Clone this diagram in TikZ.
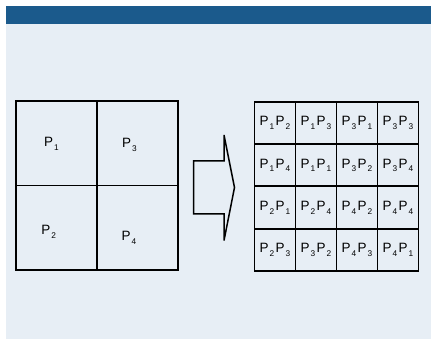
\documentclass[tikz,border=0pt]{standalone}
\usepackage{fontspec}
\setmainfont{Liberation Sans}
\definecolor{barblue}{HTML}{1B5A8C}
\definecolor{panel}{HTML}{E7EEF5}
\newcommand{\Pk}[1]{P\kern0.9pt\raisebox{-3.8pt}{\fontsize{8.3}{8.3}\selectfont #1}}
\begin{document}
\begin{tikzpicture}[x=1pt,y=-1pt,
  lbl/.style={inner sep=0pt,font=\fontsize{13.5}{15}\selectfont},
  cell/.style={draw=black,line width=1.9pt,minimum width=41pt,minimum height=42.25pt,inner sep=0pt,font=\fontsize{13.5}{15}\selectfont,anchor=north west},
  gridline/.style={draw=black,line width=1.8pt},
  bigarrow/.style={draw=black,line width=1.5pt,line join=miter}]
\useasboundingbox (0,0) rectangle (431,339);
\fill[white] (0,0) rectangle (431,339);
\fill[panel] (6,24) rectangle (431,339);
\fill[barblue] (6,6) rectangle (431,24);
% left grid
\draw[gridline] (16,101) rectangle (178,270);
\draw[gridline] (97,101) -- (97,270);
\draw[gridline] (16,185.5) -- (178,185.5);
\node[lbl] (l1) at (51.5,143.5) {\Pk{1}};
\node[lbl] (l3) at (129.5,144.5) {\Pk{3}};
\node[lbl] (l2) at (48.7,232) {\Pk{2}};
\node[lbl] (l4) at (129,238) {\Pk{4}};
% arrow
\draw[bigarrow] (193.5,161) -- (224,161) -- (224,135) -- (234.5,187.5) -- (224,240.5) -- (224,214) -- (193.5,214) -- cycle;
% right grid
\foreach \r/\c/\a/\b in {0/0/1/2,0/1/1/3,0/2/3/1,0/3/3/3,
                          1/0/1/4,1/1/1/1,1/2/3/2,1/3/3/4,
                          2/0/2/1,2/1/2/4,2/2/4/2,2/3/4/4,
                          3/0/2/3,3/1/3/2,3/2/4/3,3/3/4/1}{
  \node[cell] (c\r\c) at ({253.5+41*\c},{101+42.25*\r}) {\Pk{\a}\kern1.4pt\Pk{\b}};
}
\end{tikzpicture}
\end{document}
